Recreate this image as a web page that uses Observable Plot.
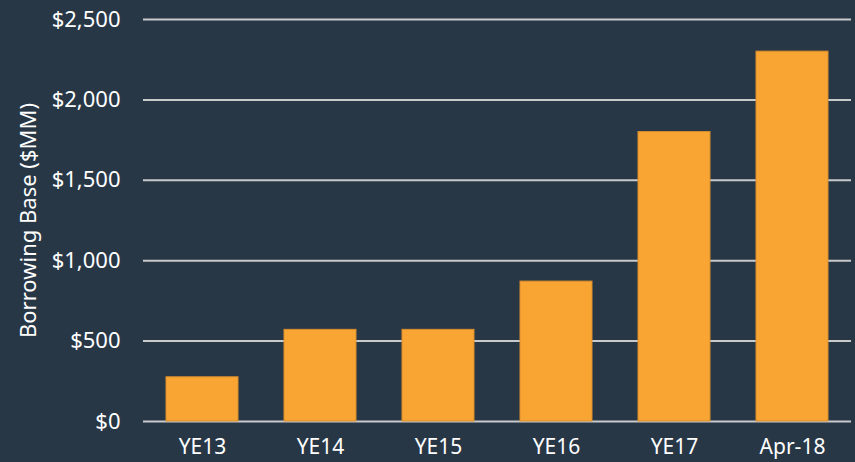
<!DOCTYPE html>
<html>
<head>
<meta charset="utf-8">
<script src="https://cdn.jsdelivr.net/npm/d3@7"></script>
<script src="https://cdn.jsdelivr.net/npm/@observablehq/plot@0.6"></script>
<style>
  html, body { margin: 0; padding: 0; background: #283746; }
  #chart { width: 855px; height: 462px; overflow: hidden; }
</style>
</head>
<body>
<div id="chart"></div>
<script>
const categories = ["YE13", "YE14", "YE15", "YE16", "YE17", "Apr-18"];
const values = [275, 570, 570, 870, 1800, 2300];
const yTicks = [0, 500, 1000, 1500, 2000, 2500];
const yLabel = "Borrowing Base ($MM)";

const data = categories.map((c, i) => ({category: c, value: values[i]}));
const fmt = v => "$" + d3.format(",")(v);

const chart = Plot.plot({
  width: 855,
  height: 462,
  marginTop: 19,
  marginBottom: 41,
  marginLeft: 143,
  marginRight: 4,
  style: {background: "#283746", color: "#ffffff", fontFamily: "'Noto Sans', sans-serif", fontSize: "22px"},
  x: {domain: categories, paddingInner: 0.39, paddingOuter: 0.186},
  y: {domain: [0, 2500]},
  marks: [
    Plot.gridY(yTicks, {stroke: "#c9cacc", strokeOpacity: 1, strokeWidth: 2}),
    Plot.barY(data, {x: "category", y: "value", fill: "#f9a533", stroke: "#d98e2c", strokeWidth: 1}),
    Plot.axisX({tickSize: 0, tickPadding: 18, label: null, fontSize: 21}),
    Plot.axisY({ticks: yTicks, tickSize: 0, tickPadding: 23, tickFormat: fmt, fontSize: 22,
      label: yLabel, labelAnchor: "center", labelArrow: "none", labelOffset: 123})
  ]
});
chart.querySelectorAll("[aria-label='y-axis label'] text, [aria-label='y-axis label']").forEach(el => {
  el.setAttribute("font-size", "22");
});
document.getElementById("chart").appendChild(chart);
</script>
</body>
</html>
